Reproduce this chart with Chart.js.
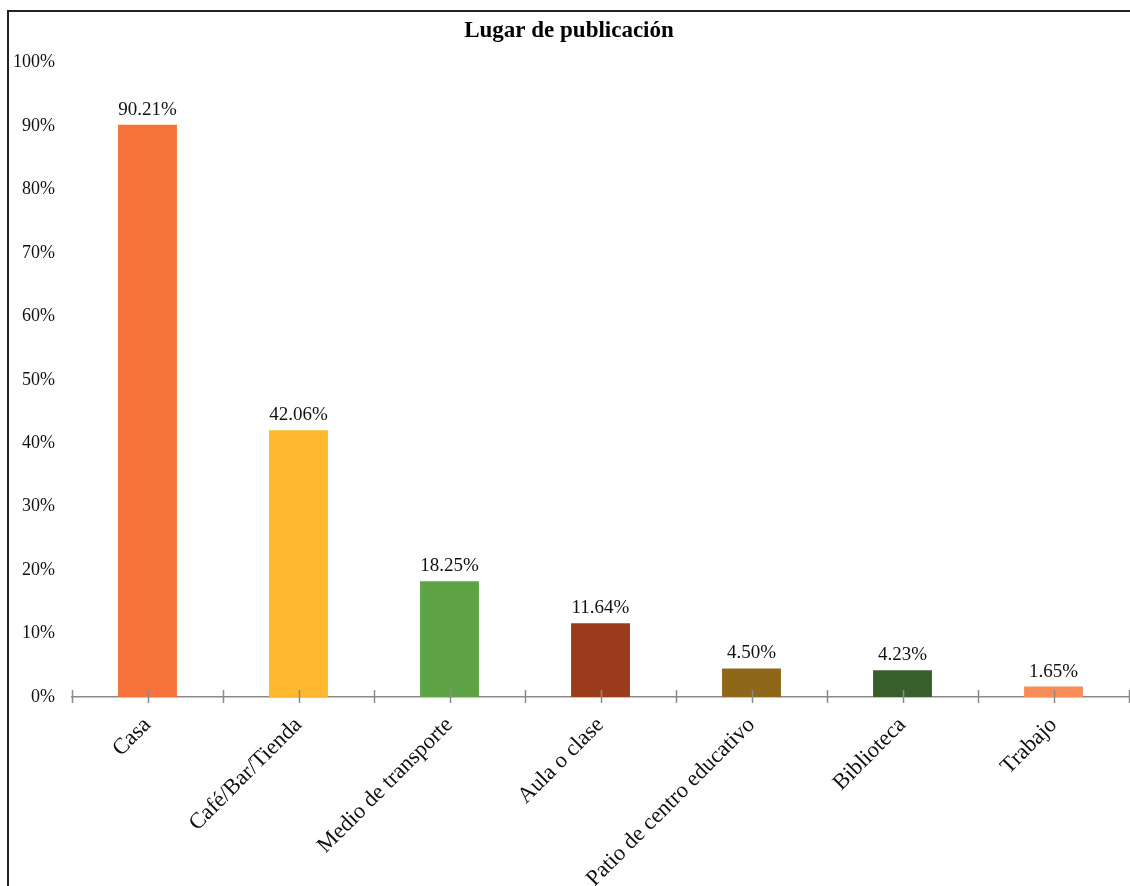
<!DOCTYPE html>
<html lang="es">
<head>
<meta charset="utf-8">
<title>Lugar de publicación</title>
<script src="https://cdn.jsdelivr.net/npm/chart.js@4"></script>
<style>
  html, body { margin: 0; padding: 0; background: #fff; }
  body { width: 1130px; height: 886px; position: relative; overflow: hidden; }
  #frame {
    position: absolute; left: 7px; top: 10px;
    width: 1123px; height: 876px;
    border-left: 2px solid #222; border-top: 2px solid #222;
  }
  #chart { display: block; }
</style>
</head>
<body>
<div id="frame"><canvas id="chart" width="1121" height="874"></canvas></div>
<script>
const categories = ['Casa', 'Café/Bar/Tienda', 'Medio de transporte', 'Aula o clase',
  'Patio de centro educativo', 'Biblioteca', 'Trabajo'];
const percentages = [90.21, 42.06, 18.25, 11.64, 4.50, 4.23, 1.65];
const barColors = ['#F5733A', '#FFB72D', '#5EA447', '#9A3C1B', '#8E6719', '#385F2B', '#F98C57'];
const yTicks = [0, 10, 20, 30, 40, 50, 60, 70, 80, 90, 100];

const SERIF = '"Liberation Serif", "Times New Roman", serif';
const AXIS_GREY = '#8a8a8a';

// Value labels above each bar
const valueLabels = {
  id: 'valueLabels',
  afterDatasetsDraw(chart) {
    const ctx = chart.ctx;
    const meta = chart.getDatasetMeta(0);
    ctx.save();
    ctx.font = '19px ' + SERIF;
    ctx.fillStyle = '#111';
    ctx.textAlign = 'center';
    ctx.textBaseline = 'alphabetic';
    meta.data.forEach((bar, i) => {
      ctx.fillText(percentages[i].toFixed(2) + '%', bar.x, bar.y - 10);
    });
    ctx.restore();
  }
};

// Small tick marks across the category axis, at centres and boundaries
const categoryTicks = {
  id: 'categoryTicks',
  afterDraw(chart) {
    const x = chart.scales.x;
    const y0 = chart.scales.y.getPixelForValue(0);
    const ctx = chart.ctx;
    ctx.save();
    ctx.strokeStyle = AXIS_GREY;
    ctx.lineWidth = 1.5;
    ctx.beginPath();
    for (let v = -0.5; v <= categories.length - 0.5; v += 0.5) {
      const px = Math.round(x.getPixelForValue(v)) + 0.5;
      ctx.moveTo(px, y0 - 7);
      ctx.lineTo(px, y0 + 6);
    }
    ctx.stroke();
    ctx.restore();
  }
};

new Chart(document.getElementById('chart'), {
  type: 'bar',
  data: {
    labels: categories,
    datasets: [{
      data: percentages,
      backgroundColor: barColors,
      borderWidth: 0,
      barPercentage: 0.39,
      categoryPercentage: 1.0
    }]
  },
  options: {
    responsive: false,
    animation: false,
    devicePixelRatio: 1,
    layout: { padding: { left: 0, right: 1, top: 0, bottom: 0 } },
    plugins: {
      legend: { display: false },
      tooltip: { enabled: false },
      title: {
        display: true,
        text: 'Lugar de publicación',
        color: '#000',
        font: { family: SERIF, size: 23, weight: 'bold' },
        padding: { top: 5, bottom: 18 }
      }
    },
    scales: {
      x: {
        offset: true,
        grid: { display: false, drawTicks: false },
        border: { display: true, color: AXIS_GREY, width: 1.5 },
        ticks: {
          color: '#111',
          font: { family: SERIF, size: 22.5 },
          minRotation: 45,
          maxRotation: 45,
          autoSkip: false,
          padding: 15
        },
        afterFit(scale) { scale.height = 189; }
      },
      y: {
        min: 0,
        max: 100,
        afterBuildTicks(scale) { scale.ticks = yTicks.map(v => ({ value: v })); },
        grid: { display: false, drawTicks: false },
        border: { display: false },
        ticks: {
          color: '#111',
          font: { family: SERIF, size: 18 },
          padding: 17,
          callback: v => v + '%'
        },
        afterFit(scale) { scale.width = 63; }
      }
    }
  },
  plugins: [valueLabels, categoryTicks]
});
</script>
</body>
</html>
